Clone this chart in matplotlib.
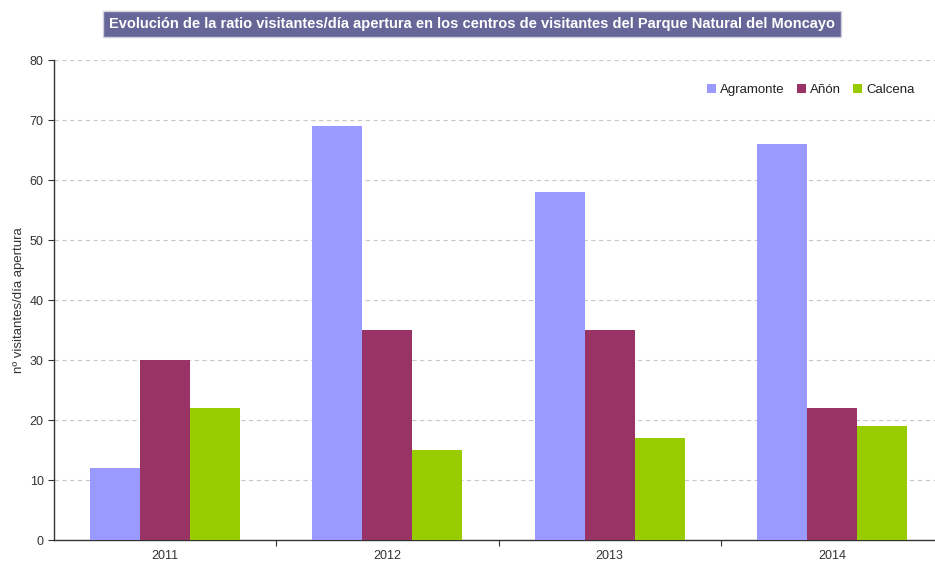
import matplotlib
matplotlib.use("Agg")
import matplotlib.pyplot as plt
import numpy as np

years = ["2011", "2012", "2013", "2014"]
series_names = ["Agramonte", "Añón", "Calcena"]
agramonte = [12, 69, 58, 66]
anon = [30, 35, 35, 22]
calcena = [22, 15, 17, 19]
colors = ["#9999ff", "#993366", "#99cc00"]
yticks = [0, 10, 20, 30, 40, 50, 60, 70, 80]

plt.rcParams['font.family'] = ['Liberation Sans', 'DejaVu Sans']

fig = plt.figure(figsize=(9.35, 5.65), dpi=100)
ax = fig.add_axes([0.0578, 0.0442, 0.9422, 0.8496])

x = np.arange(len(years))
w = 0.225
for i, (vals, name, c) in enumerate(zip([agramonte, anon, calcena], series_names, colors)):
    ax.bar(x + (i - 1) * w, vals, width=w, color=c, label=name, zorder=3)

ax.set_xlim(-0.5, 3.464)
ax.set_ylim(0, 80)
ax.set_yticks(yticks)
ax.yaxis.grid(True, linestyle=(0, (4, 3)), color="#c8c8c8", linewidth=0.8, zorder=0)
ax.set_axisbelow(True)

ax.set_xticks(x[:-1] + 0.5)
ax.set_xticklabels([])
ax.set_xticks(x, minor=True)
ax.set_xticklabels(years, minor=True)
ax.tick_params(axis="x", which="major", length=4, direction="out", color="#333333")
ax.tick_params(axis="x", which="minor", length=0, labelsize=9, pad=7, labelcolor="#333333")
ax.tick_params(axis="y", length=4, labelsize=9, labelcolor="#333333", color="#333333")

for s in ["top", "right"]:
    ax.spines[s].set_visible(False)
for s in ["left", "bottom"]:
    ax.spines[s].set_color("#333333")
    ax.spines[s].set_linewidth(1.0)

ax.set_ylabel("nº visitantes/día apertura", fontsize=9.5, color="#333333")
ax.yaxis.set_label_coords(-0.033, 0.5)

leg = ax.legend(loc="upper right", bbox_to_anchor=(0.99, 0.975), ncol=3, frameon=False,
                fontsize=9.5, handlelength=0.7, handleheight=0.7, handletextpad=0.3,
                columnspacing=0.9)
for t in leg.get_texts():
    t.set_color("#222222")

fig.text(0.505, 0.958, "Evolución de la ratio visitantes/día apertura en los centros de visitantes del Parque Natural del Moncayo",
         ha="center", va="center", fontsize=10.5, fontweight="bold", color="white",
         bbox=dict(boxstyle="square,pad=0.4", facecolor="#666699", edgecolor="#d0d0e0", linewidth=1))

fig.savefig("out.png", dpi=100)
